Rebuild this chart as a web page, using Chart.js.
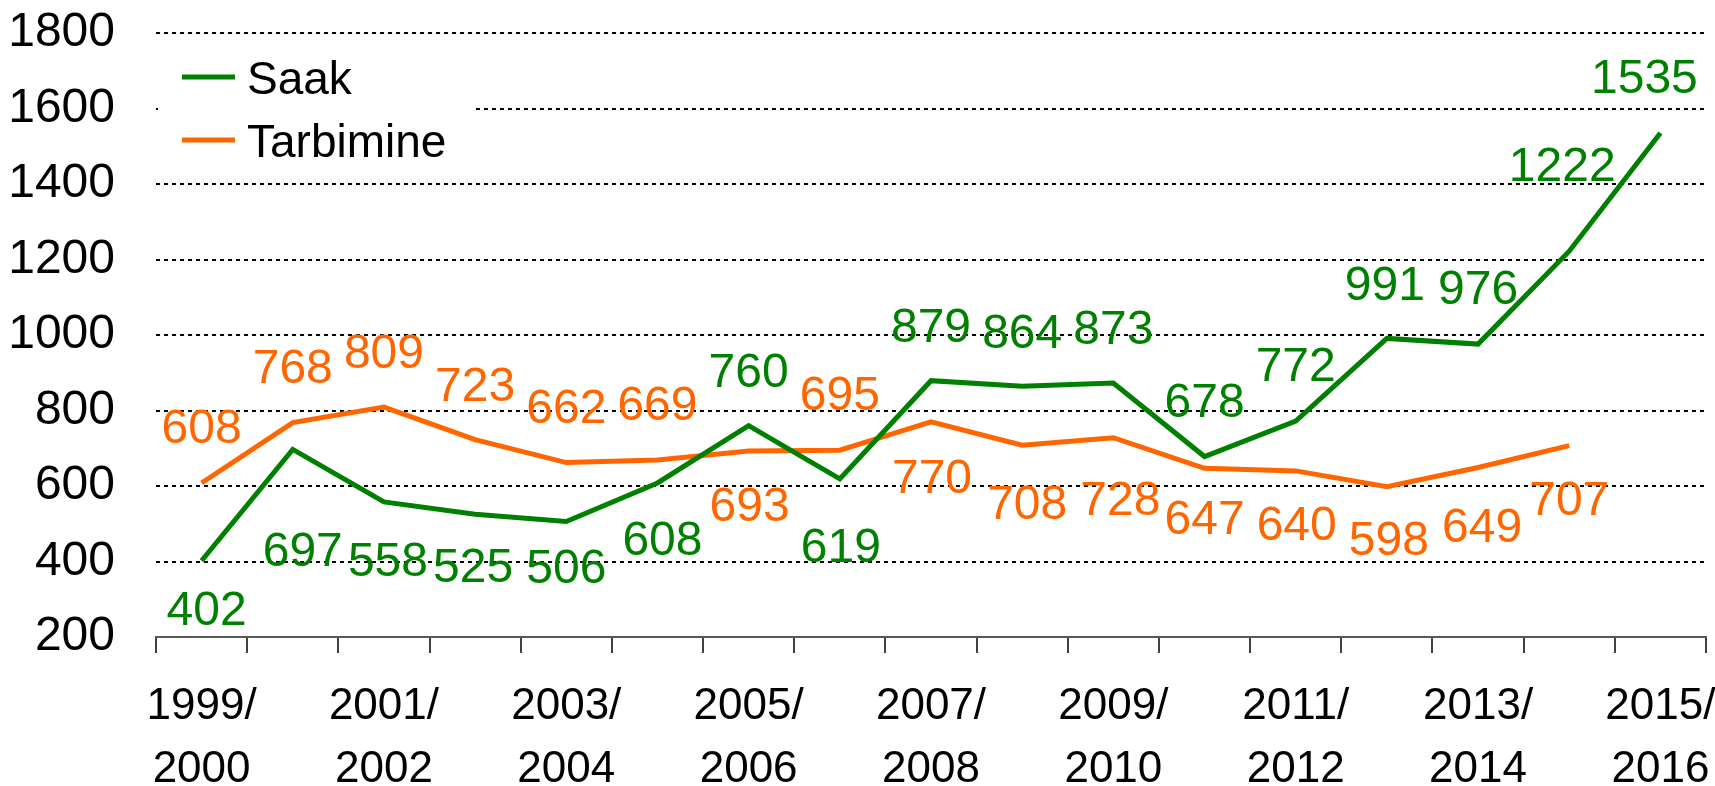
<!DOCTYPE html>
<html>
<head>
<meta charset="utf-8">
<title>Saak ja tarbimine</title>
<script src="https://cdn.jsdelivr.net/npm/chart.js@4.4.1/dist/chart.umd.min.js"></script>
<style>
    html, body { margin: 0; padding: 0; background: #ffffff; }
    canvas { display: block; }
</style>
</head>
<body>
<canvas id="Saak" width="1715" height="786"></canvas>
<script>
    var seasons = ['1999/2000', '2000/2001', '2001/2002', '2002/2003', '2003/2004', '2004/2005', '2005/2006', '2006/2007',
        '2007/2008', '2008/2009', '2009/2010', '2010/2011', '2011/2012', '2012/2013', '2013/2014', '2014/2015', '2015/2016'];
    var saak = [402, 697, 558, 525, 506, 608, 760, 619, 879, 864, 873, 678, 772, 991, 976, 1222, 1535];
    var tarbimine = [608, 768, 809, 723, 662, 669, 693, 695, 770, 708, 728, 647, 640, 598, 649, 707, null];
    var yTicks = [200, 400, 600, 800, 1000, 1200, 1400, 1600, 1800];

    // where each value label sits relative to its point (px)
    var saakLabelDx = [5, 10, 4, -2, 0, 5, 0, 1, 0, 0, 0, 0, 0, -2, 0, -7, -16];
    var saakLabelDy = [47, 99, 57, 51, 44, 55, -56, 66, -56, -56, -56, -57, -57, -56, -57, -87, -57];
    var tarbLabelDx = [0, 0, 0, 0, 0, 0, 1, 0, 1, 5, 7, 0, 1, 2, 4, 0];
    var tarbLabelDy = [-57, -57, -56, -56, -57, -57, 53, -57, 54, 57, 60, 49, 52, 51, 57, 52];

    var green = '#008000';
    var orange = '#ff6600';
    var fontName = '"Liberation Sans", Arial, sans-serif';

    var valueLabels = {
        id: 'valueLabels',
        afterDatasetsDraw: function (chart) {
            var ctx = chart.ctx;
            var size = 48;
            ctx.save();
            ctx.font = size + 'px ' + fontName;
            ctx.textAlign = 'center';
            ctx.textBaseline = 'alphabetic';
            chart.data.datasets.forEach(function (ds, d) {
                var meta = chart.getDatasetMeta(d);
                ctx.fillStyle = ds.borderColor;
                meta.data.forEach(function (pt, i) {
                    var v = ds.data[i];
                    if (v === null) return;
                    var x = pt.x + ds.labelDx[i];
                    var y = pt.y + ds.labelDy[i] + 0.358 * size;
                    ctx.fillText(String(v), x, y);
                });
            });
            ctx.restore();
        }
    };

    var boxLegend = {
        id: 'boxLegend',
        beforeDatasetsDraw: function (chart) {
            var ctx = chart.ctx;
            var left = chart.chartArea.left;
            ctx.save();
            ctx.fillStyle = '#ffffff';
            ctx.fillRect(left + 2, 45, 318, 125);
            ctx.font = '46px ' + fontName;
            ctx.textBaseline = 'alphabetic';
            ctx.textAlign = 'left';
            chart.data.datasets.forEach(function (ds, d) {
                var y = 77 + d * 63;
                ctx.strokeStyle = ds.borderColor;
                ctx.lineWidth = 5;
                ctx.beginPath();
                ctx.moveTo(left + 26, y);
                ctx.lineTo(left + 79, y);
                ctx.stroke();
                ctx.fillStyle = '#000000';
                ctx.fillText(ds.label, left + 91, y + 17);
            });
            ctx.restore();
        }
    };

    new Chart(document.getElementById('Saak'), {
        type: 'line',
        data: {
            labels: seasons,
            datasets: [
                {
                    label: 'Saak',
                    data: saak,
                    borderColor: green,
                    backgroundColor: green,
                    borderWidth: 5,
                    pointRadius: 0,
                    tension: 0,
                    labelDx: saakLabelDx,
                    labelDy: saakLabelDy
                },
                {
                    label: 'Tarbimine',
                    data: tarbimine,
                    borderColor: orange,
                    backgroundColor: orange,
                    borderWidth: 5,
                    pointRadius: 0,
                    tension: 0,
                    labelDx: tarbLabelDx,
                    labelDy: tarbLabelDy
                }
            ]
        },
        options: {
            responsive: false,
            animation: false,
            layout: {
                padding: { top: 33, right: 9, bottom: 0, left: 0 }
            },
            plugins: {
                legend: { display: false },
                tooltip: { enabled: false }
            },
            scales: {
                x: {
                    offset: true,
                    afterFit: function (scale) {
                        scale.height = 149;
                        scale.paddingLeft = 0;
                        scale.paddingRight = 0;
                    },
                    grid: {
                        offset: true,
                        drawOnChartArea: false,
                        drawTicks: true,
                        tickLength: 16,
                        color: '#404040',
                        lineWidth: 2
                    },
                    border: { display: true, color: '#595959', width: 2 },
                    ticks: {
                        autoSkip: false,
                        maxRotation: 0,
                        padding: 23,
                        color: '#000000',
                        font: { family: fontName, size: 44, lineHeight: 1.425 },
                        callback: function (value, index) {
                            if (index % 2 !== 0) return '';
                            var parts = seasons[index].split('/');
                            return [parts[0] + '/', parts[1]];
                        }
                    }
                },
                y: {
                    min: yTicks[0],
                    max: yTicks[yTicks.length - 1],
                    afterFit: function (scale) {
                        scale.width = 156;
                        scale.paddingTop = 0;
                        scale.paddingBottom = 0;
                    },
                    afterBuildTicks: function (scale) {
                        scale.ticks = yTicks.map(function (v) { return { value: v }; });
                    },
                    grid: {
                        drawTicks: false,
                        lineWidth: 2,
                        color: function (c) { return c.tick && c.tick.value === yTicks[0] ? 'rgba(0,0,0,0)' : '#000000'; }
                    },
                    border: { display: false, dash: [4, 4] },
                    ticks: {
                        padding: 41,
                        color: '#000000',
                        font: { family: fontName, size: 48 },
                        callback: function (value) { return String(value); }
                    }
                }
            }
        },
        plugins: [valueLabels, boxLegend]
    });
</script>
</body>
</html>
